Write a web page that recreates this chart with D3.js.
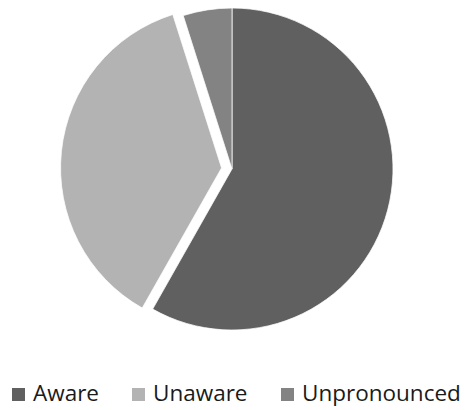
<!DOCTYPE html>
<html>
<head>
<meta charset="utf-8">
<script src="https://cdn.jsdelivr.net/npm/d3@7"></script>
<style>
  html, body { margin: 0; padding: 0; background: #fff; }
  svg { display: block; }
</style>
</head>
<body>
<svg id="chart" width="467" height="410"></svg>
<script>
// Survey response shares
const categories = ["Aware", "Unaware", "Unpronounced"];
const values = [58.2, 36.9, 4.9];
const colors = ["#606060", "#b3b3b3", "#838383"];
const exploded = ["Unaware"];

const svg = d3.select("#chart");
const cx = 232, cy = 169, radius = 161, explodeDist = 10.5;

const pie = d3.pie().sort(null).value(d => d.value);
const arc = d3.arc().innerRadius(0).outerRadius(radius);

const data = categories.map((c, i) => ({ name: c, value: values[i], color: colors[i] }));

const g = svg.append("g").attr("transform", `translate(${cx},${cy})`);

g.selectAll("path")
  .data(pie(data))
  .join("path")
  .attr("d", arc)
  .attr("fill", d => d.data.color)
  .attr("stroke", "#fff")
  .attr("stroke-width", 0.75)
  .attr("transform", d => {
    if (!exploded.includes(d.data.name)) return null;
    const mid = (d.startAngle + d.endAngle) / 2;
    return `translate(${Math.sin(mid) * explodeDist},${-Math.cos(mid) * explodeDist})`;
  });

// Legend
const legendX = [12, 132, 281];
const legend = svg.append("g");
const items = legend.selectAll("g")
  .data(data)
  .join("g")
  .attr("transform", (d, i) => `translate(${legendX[i]},388)`);

items.append("rect")
  .attr("width", 13)
  .attr("height", 13)
  .attr("fill", d => d.color);

items.append("text")
  .attr("x", 21)
  .attr("y", 13)
  .attr("font-family", "'Open Sans', sans-serif")
  .attr("font-size", 22.5)
  .attr("fill", "#1a1a1a")
  .text(d => d.name);
</script>
</body>
</html>
